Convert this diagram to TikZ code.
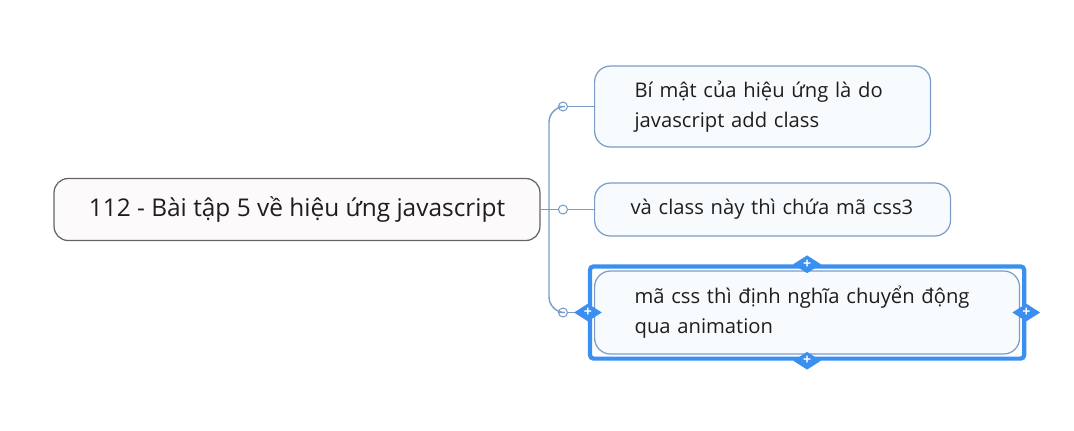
\documentclass[tikz,border=0pt]{standalone}
\usepackage{fontspec}
\setmainfont{Open Sans}
\usetikzlibrary{positioning, fit, shapes.geometric}
\definecolor{topicLine}{RGB}{122,156,200}
\definecolor{topicFill}{RGB}{248,251,254}
\definecolor{rootFill}{RGB}{253,250,251}
\definecolor{rootLine}{RGB}{100,100,100}
\definecolor{selBlue}{RGB}{58,143,240}
\definecolor{inkDark}{RGB}{30,30,30}

\begin{document}
\begin{tikzpicture}[x=0.02cm, y=-0.02cm, font=\fontsize{11.5}{17}\selectfont, text=inkDark,
  rootbox/.style={draw=rootLine, fill=rootFill, rounded corners=8pt, line width=0.7pt,
    minimum width=9.72cm, minimum height=1.24cm, font=\fontsize{13.9}{17}\selectfont},
  topic/.style={draw=topicLine, fill=topicFill, rounded corners=9pt, line width=0.7pt,
    align=left, inner ysep=0pt, anchor=west},
  link/.style={draw=topicLine, line width=0.8pt},
  knob/.style={circle, draw=topicLine, fill=white, line width=0.6pt, minimum size=0.18cm, inner sep=0pt},
  handle/.style={diamond, fill=selBlue, minimum width=0.56cm, minimum height=0.36cm, inner sep=0pt,
    text=white, font=\bfseries\fontsize{8}{8}\selectfont}]
  \useasboundingbox (0,0) rectangle (1074,430);

  \node[rootbox] (root) at (297,209.5) {112 - Bài tập 5 về hiệu ứng javascript};

  \node[topic, inner xsep=0.8cm, text width=5.12cm, minimum height=1.62cm] (secret) at (594,106.5)
    {Bí mật của hiệu ứng là do\\javascript add class};
  \node[topic, inner xsep=0.72cm, text width=5.68cm, minimum height=1.06cm] (cssthree) at (594,209.5)
    {và class này thì chứa mã css3};
  \node[topic, inner xsep=0.8cm, text width=6.9cm, minimum height=1.66cm] (anim) at (594,312.5)
    {mã css thì định nghĩa chuyển động\\qua animation};

  % knobs in front of each topic
  \node[knob, left=0.52cm of secret.west] (kSecret) {};
  \node[knob, left=0.52cm of cssthree.west] (kCss) {};
  \node[knob, left=0.52cm of anim.west] (kAnim) {};

  \coordinate (trunk) at (549,209.5);
  \draw[link] (root.east) -- (kCss);
  \draw[link, rounded corners=9pt] (trunk) |- (kSecret);
  \draw[link, rounded corners=9pt] (trunk) |- (kAnim);
  \draw[link] (kSecret) -- (secret);
  \draw[link] (kCss) -- (cssthree);
  \draw[link] (kAnim) -- (anim);

  % selection frame
  \node[draw=selBlue, line width=2.4pt, rounded corners=2pt, inner sep=0.08cm, fit=(anim)] (sel) {};
  \foreach \side in {north, south, west, east}
    \node[handle] at (sel.\side) {+};
\end{tikzpicture}
\end{document}
